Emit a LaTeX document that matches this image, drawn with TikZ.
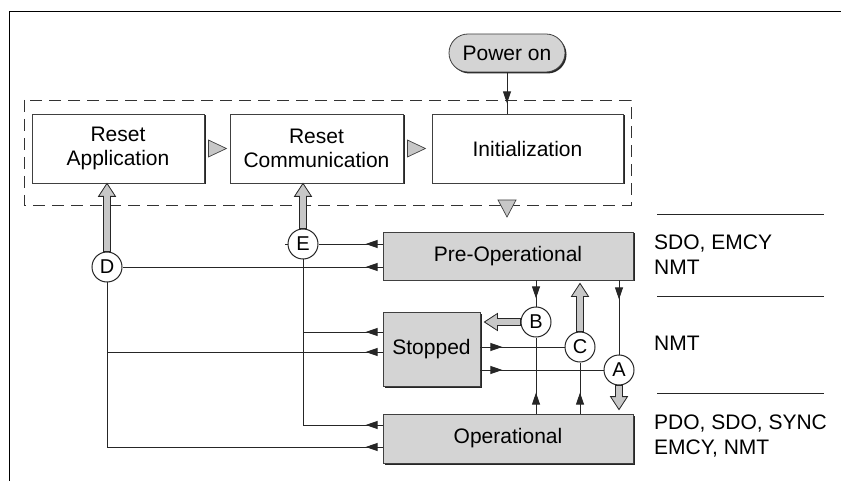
\documentclass[tikz,border=0pt]{standalone}
\usepackage{fontspec}
\setmainfont{Liberation Sans}
\usetikzlibrary{positioning,calc,arrows.meta,decorations.markings,shadows}

\tikzset{
  box/.style={draw=black!75, line width=0.8pt, fill=white, align=center,
    inner sep=0pt, minimum width=#1, minimum height=69pt,
    drop shadow={shadow xshift=1.5pt, shadow yshift=-1.5pt, fill=black!85, opacity=1}},
  statebox/.style={box=#1, fill=black!17, minimum height=48pt},
  letter/.style={circle, draw=black!85, line width=1pt, fill=white,
    minimum size=30pt, inner sep=0pt, font=\fontsize{20}{20}\selectfont},
  link/.style={draw=black!85, line width=0.9pt},
  tipat/.style={link, postaction={decorate}, decoration={markings,
    mark=at position #1 with {\arrow{Triangle[length=12pt,width=8pt]}}}},
  fat/.style={draw=black!85, line width=0.8pt, fill=black!22},
  tri/.style={draw=black!75, line width=0.7pt, fill=black!22},
  group/.style={draw=black!80, line width=0.8pt, dash pattern=on 12pt off 7pt},
}

% hollow block arrow from #1 to #2
\newcommand{\fatarrow}[2]{%
  \draw[fat] let \p1=(#1), \p2=(#2),
      \n1={atan2(\y2-\y1,\x2-\x1)}, \n2={veclen(\x2-\x1,\y2-\y1)} in
    [shift={(\x1,\y1)}, rotate=\n1]
    (0pt,-3.5pt) -- (\n2-13pt,-3.5pt) -- (\n2-13pt,-8.5pt) -- (\n2,0pt)
    -- (\n2-13pt,8.5pt) -- (\n2-13pt,3.5pt) -- (0pt,3.5pt) -- cycle;}

\begin{document}
\begin{tikzpicture}[x=1pt, y=-1pt, every node/.style={font=\fontsize{21}{24}\selectfont}]
    \useasboundingbox (0,0) rectangle (841,481);
    % frame
    \draw[line width=0.9pt] (841,11) -- (9,11) -- (9,481);

    % start-up boxes
    \node[box=116pt, fill=black!17, minimum height=38pt, rounded corners=19pt] (power) at (507,53) {Power on};
    \node[box=172pt] (ra) at (118,148.5) {Reset\\Application};
    \node[box=173pt] (rc) at (316.5,148.5) {Reset\\Communication};
    \node[box=191pt] (init) at (527.5,148.5) {Initialization};
    \draw[group] (24,100) rectangle (631,205);
    \draw[tri] ($(ra.east)+(4,-8.5)$) -- ++(18,8.5) -- ++(-18,8.5) -- cycle;
    \draw[tri] ($(rc.east)+(4,-8.5)$) -- ++(18,8.5) -- ++(-18,8.5) -- cycle;
    \draw[tri] (498,200) -- (516,200) -- (507,217) -- cycle;
    \draw[tipat=31pt] (power) -- (power |- init.north);

    % states
    \node[statebox=250pt] (preop) at (508,256) {Pre-Operational};
    \node[statebox=97pt, minimum height=74pt] (stopped) at (431.5,349) {Stopped};
    \node[statebox=250pt, minimum height=49pt] (op) at (508,438.5) {Operational};

    % transitions
    \node[letter] (E) at (303,244) {E};
    \node[letter] (D) at (107,267) {D};
    \node[letter] (B) at (536,322) {B};
    \node[letter] (C) at (580,347) {C};
    \node[letter] (A) at (619,370) {A};

    % services
    \foreach \y in {214,296,393}
        \draw[link] (657,\y) -- (824,\y);
    \node[anchor=west, align=left, inner sep=0pt, font=\fontsize{21}{25}\selectfont] (srv1) at (654,254.5) {SDO, EMCY\\NMT};
    \node[anchor=west, inner sep=0pt] (srv2) at (654,343) {NMT};
    \node[anchor=west, align=left, inner sep=0pt, font=\fontsize{21}{25}\selectfont] (srv3) at (654,436.5) {PDO, SDO, SYNC\\EMCY, NMT};

    % left connectors
    \coordinate (s1) at ([yshift=17pt]stopped.west);
    \coordinate (s2) at ([yshift=-3pt]stopped.west);
    \coordinate (o1) at ([yshift=13.5pt]op.west);
    \coordinate (o2) at ([yshift=-8.5pt]op.west);
    \draw[tipat=17pt] (preop.west |- E) -- (E);
    \draw[link] (E.west) -- ++(-3,0);
    \draw[tipat=17pt] (preop.west |- D) -- (D);
    \draw[tipat=17pt] (s1) -- (s1 -| E);
    \draw[tipat=17pt] (s2) -- (s2 -| D);
    \draw[tipat=17pt] (o1) -| (E);
    \draw[tipat=17pt] (o2) -| (D);

    % right connectors
    \draw[tipat=18pt] (preop.south -| B) -- (B);
    \draw[tipat=19pt] (preop.south -| A) -- (A);
    \draw[tipat=21pt] (op.north -| B) -- (B);
    \draw[tipat=21pt] (op.north -| C) -- (C);
    \draw[tipat=22pt] (stopped.east |- C) -- (C);
    \draw[tipat=22pt] (stopped.east |- A) -- (A);

    % block arrows
    \fatarrow{D.north}{D.north |- ra.south}
    \fatarrow{E.north}{E.north |- rc.south}
    \fatarrow{B.west}{[xshift=4pt]stopped.east |- B}
    \fatarrow{C.north}{[yshift=-3pt]C.north |- preop.south}
    \fatarrow{A.south}{[yshift=4pt]A.south |- op.north}
\end{tikzpicture}
\end{document}
